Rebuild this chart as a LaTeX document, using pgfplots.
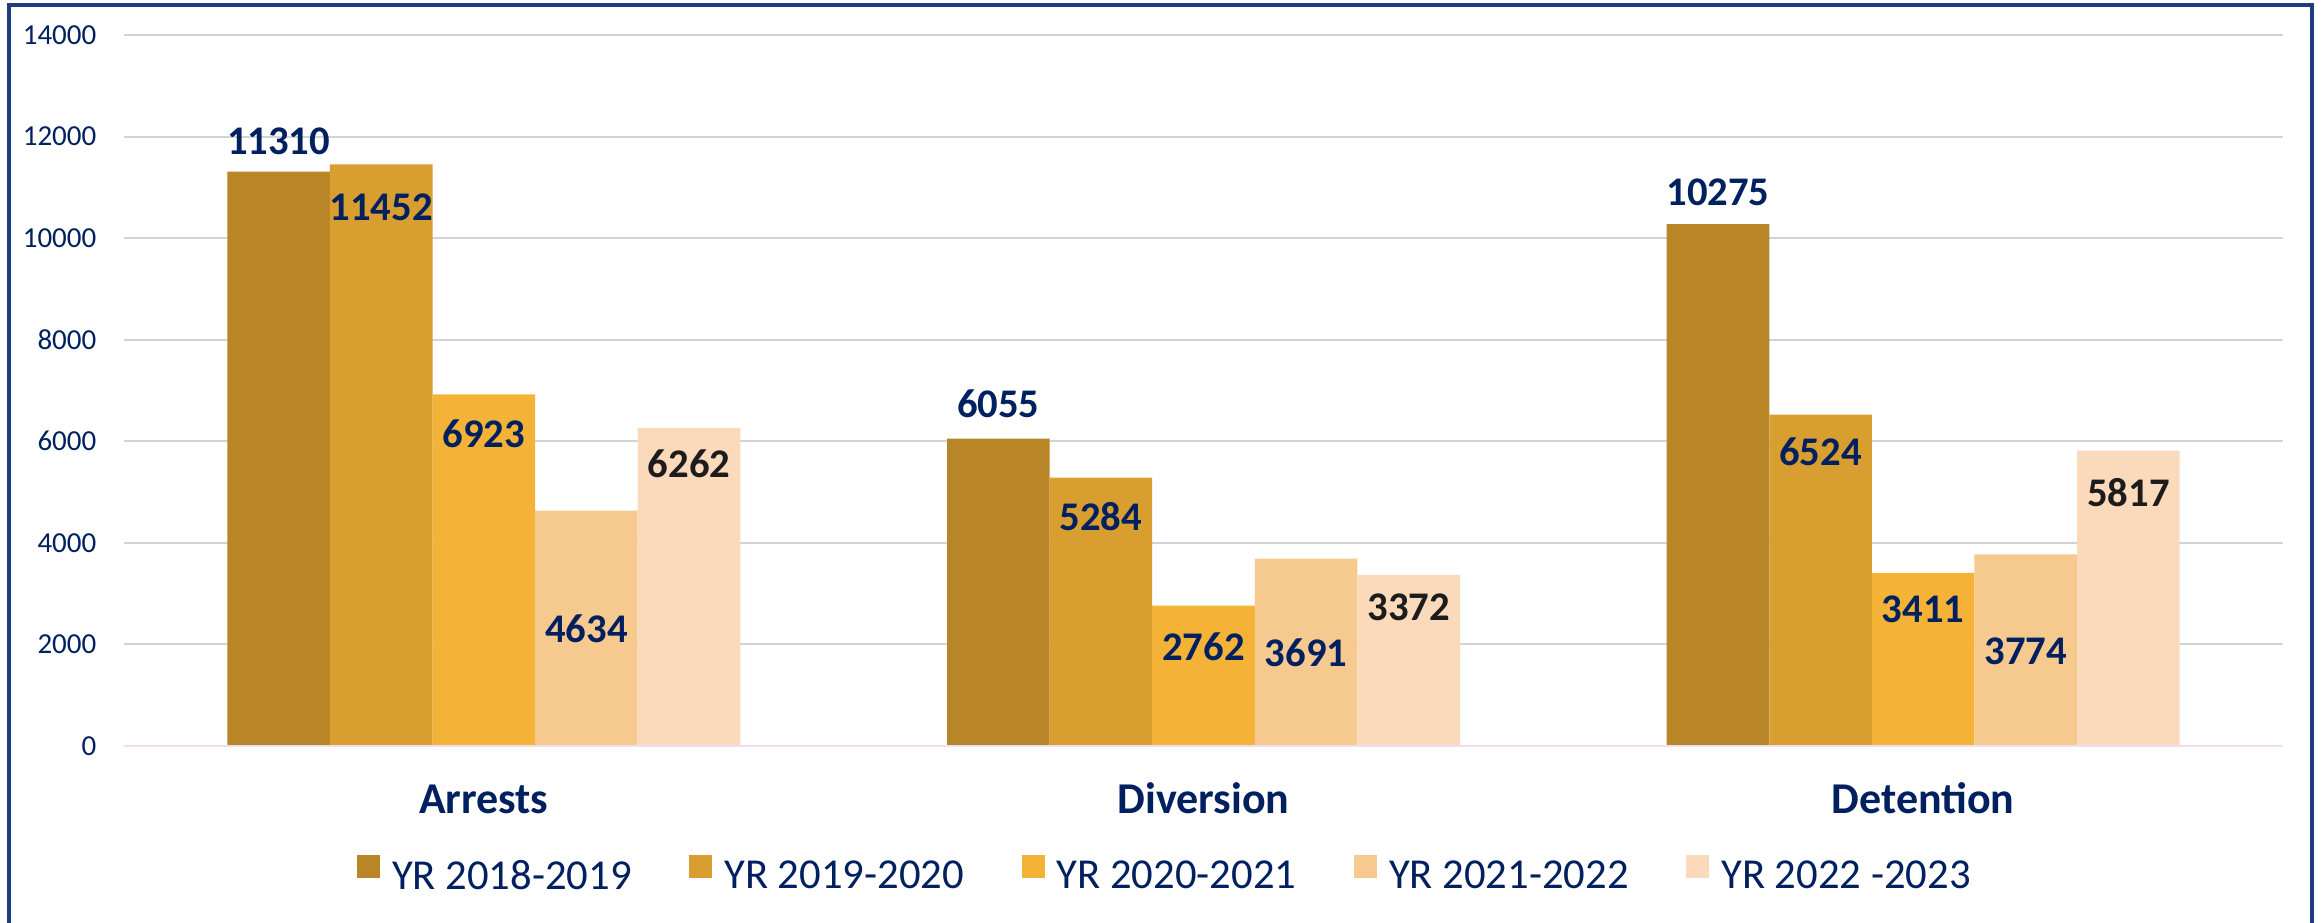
\documentclass[border=0pt]{standalone}
\usepackage{pgfplots}
\pgfplotsset{compat=1.18}
\usepackage{fontspec}
\setmainfont{Carlito}
\definecolor{navy}{HTML}{002060}
\definecolor{framec}{HTML}{1F3C7C}
\definecolor{cA}{HTML}{B88626}
\definecolor{cB}{HTML}{D99E30}
\definecolor{cC}{HTML}{F4B336}
\definecolor{cD}{HTML}{F6C98F}
\definecolor{cE}{HTML}{FADABA}
\definecolor{gridc}{HTML}{D3D3D3}
\definecolor{basec}{HTML}{F0DDF2}
\definecolor{blk}{HTML}{1C1C1C}
\begin{document}
\begin{tikzpicture}
\useasboundingbox (0,0) rectangle (696.3pt,276.6pt);
\draw[framec, line width=1pt] (2.7pt,-10pt) -- (2.7pt,275.1pt) -- (693.6pt,275.1pt) -- (693.6pt,-10pt);
\begin{axis}[
  at={(37.2pt,52.8pt)}, anchor=south west,
  scale only axis, width=647.7pt, height=213.3pt,
  ybar=0pt, bar width=30.78pt,
  xmin=-0.5, xmax=2.5, ymin=0, ymax=14000,
  xtick={0,1,2}, xticklabels={Arrests,Diversion,Detention},
  ytick={0,2000,...,14000},
  scaled y ticks=false,
  axis line style={draw=none},
  major tick length=0pt,
  ymajorgrids, grid style={draw=gridc, line width=0.6pt},
  yticklabel style={/pgf/number format/fixed, /pgf/number format/1000 sep={}, /pgf/number format/assume math mode=true,
    anchor=east, inner sep=0pt, xshift=-8.1pt, text=navy, font=\fontsize{8.7}{10}\selectfont},
  xticklabel style={anchor=base, inner sep=0pt, yshift=-20.1pt, text=navy, font=\bfseries\fontsize{13.2}{15}\selectfont},
  legend columns=5,
  legend image code/.code={\fill[#1] (0pt,0pt) rectangle (6.9pt,6.9pt);},
  legend style={draw=none, fill=none, inner sep=0pt, outer sep=0pt,
    at={(0.10792,-0.209)}, anchor=south west,
    font=\fontsize{12.8}{15}\selectfont, text=navy,
    nodes={inner sep=0pt},
    /tikz/every odd column/.append style={column sep=3.6pt},
    /tikz/every even column/.append style={column sep=17.3pt}},
]
\addplot[fill=cA, draw=none] coordinates {(0,11310) (1,6055) (2,10275)};
\addplot[fill=cB, draw=none] coordinates {(0,11452) (1,5284) (2,6524)};
\addplot[fill=cC, draw=none] coordinates {(0,6923) (1,2762) (2,3411)};
\addplot[fill=cD, draw=none] coordinates {(0,4634) (1,3691) (2,3774)};
\addplot[fill=cE, draw=none] coordinates {(0,6262) (1,3372) (2,5817)};
\legend{YR 2018-2019,YR 2019-2020,YR 2020-2021,YR 2021-2022,YR 2022 -2023}
\draw[basec, line width=0.8pt] (axis cs:-0.5,0) -- (axis cs:2.5,0);
\tikzset{lbl/.style={font=\bfseries\fontsize{12.2}{14}\selectfont, text=navy, inner sep=0pt}}
% Arrests
\node[lbl, xshift=-61.56pt] at (axis cs:0,11913) {11310};
\node[lbl, xshift=-30.78pt] at (axis cs:0,10613) {11452};
\node[lbl] at (axis cs:0,6149) {6923};
\node[lbl, xshift=30.78pt] at (axis cs:0,2304) {4634};
\node[lbl, xshift=61.56pt, text=blk] at (axis cs:0,5566) {6262};
% Diversion
\node[lbl, xshift=-61.56pt] at (axis cs:1,6734) {6055};
\node[lbl, xshift=-30.78pt] at (axis cs:1,4517) {5284};
\node[lbl] at (axis cs:1,1953) {2762};
\node[lbl, xshift=30.78pt] at (axis cs:1,1835) {3691};
\node[lbl, xshift=61.56pt, text=blk] at (axis cs:1,2739) {3372};
% Detention
\node[lbl, xshift=-61.56pt] at (axis cs:2,10908) {10275};
\node[lbl, xshift=-30.78pt] at (axis cs:2,5789) {6524};
\node[lbl] at (axis cs:2,2698) {3411};
\node[lbl, xshift=30.78pt] at (axis cs:2,1871) {3774};
\node[lbl, xshift=61.56pt, text=blk] at (axis cs:2,4991) {5817};
\end{axis}
\end{tikzpicture}
\end{document}
